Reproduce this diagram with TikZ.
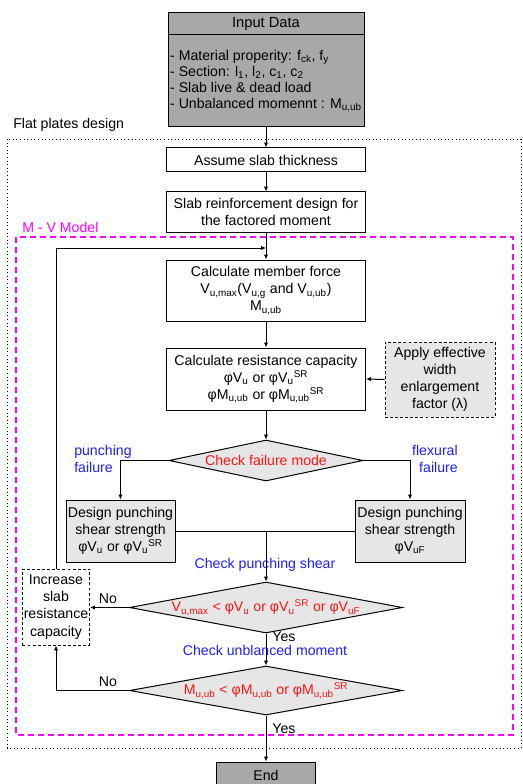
\documentclass[tikz,border=0pt]{standalone}
\usepackage{fontspec}
\setmainfont{Liberation Sans}
\usetikzlibrary{shapes.geometric,arrows.meta}
\newcommand\tsb[1]{\textsubscript{#1}}
\newcommand\tsp[1]{\textsuperscript{#1}}
\newcommand\pu{0.75pt}
\definecolor{gDark}{RGB}{168,168,168}
\definecolor{gLight}{RGB}{230,230,230}
\definecolor{lblue}{RGB}{30,30,255}
\definecolor{lred}{RGB}{255,20,20}
\definecolor{lmag}{RGB}{255,0,255}
\begin{document}
\begin{tikzpicture}[x=0.75pt,y=-0.75pt,
  font=\fontsize{10.6}{12.8}\selectfont,
  box/.style={draw, line width=0.75pt, align=center, inner sep=1pt},
  graybox/.style={box, fill=gLight},
  darkbox/.style={box, fill=gDark},
  dashbox/.style={draw, line width=0.75pt, align=center, inner sep=1pt, dash pattern=on 2.2pt off 1.6pt},
  decision/.style={draw, line width=0.75pt, diamond, fill=gLight, inner sep=0pt, text=lred},
  arr/.style={line width=0.75pt, -{Latex[length=3.6pt,width=3.2pt]}},
  ln/.style={line width=0.75pt},
  bluelbl/.style={text=lblue, inner sep=0pt},
  plainlbl/.style={inner sep=0pt}
]
\useasboundingbox (0,0) rectangle (523,784);

% frames
\draw[dotted, line width=0.7pt] (7,139) rectangle (521,748);
\draw[lmag, line width=0.9pt, dash pattern=on 4.5pt off 3pt] (16,237) rectangle (513,735);
\node[plainlbl, anchor=west] (lblFP) at (13,125) {Flat plates design};
\node[plainlbl, anchor=west, text=lmag] (lblMV) at (22,227) {M - V Model};

% nodes
\node[darkbox, minimum width=196*\pu, minimum height=22*\pu, font=\fontsize{11}{13}\selectfont] (inTitle) at (266,24) {Input Data};
\node[darkbox, minimum width=196*\pu, minimum height=92*\pu, align=left, font=\fontsize{10.6}{12}\selectfont] (inBody) at (266,81)
  {- Material properity: f\tsb{ck}, f\tsb{y}\\
   - Section: l\tsb{1}, l\tsb{2}, c\tsb{1}, c\tsb{2}\\
   - Slab live \& dead load\\
   - Unbalanced momennt : M\tsb{u,ub}};
\node[box, minimum width=199*\pu, minimum height=24*\pu] (assume) at (266,160) {Assume slab thickness};
\node[box, minimum width=199*\pu, minimum height=40*\pu] (reinf) at (266,212) {Slab reinforcement design for\\the factored moment};
\node[box, minimum width=199*\pu, minimum height=61*\pu] (calcF) at (266,290.5)
  {Calculate member force\\V\tsb{u,max}(V\tsb{u,g} and V\tsb{u,ub})\\M\tsb{u,ub}};
\node[box, minimum width=199*\pu, minimum height=62*\pu] (calcR) at (266,379)
  {Calculate resistance capacity\\φV\tsb{u} or φV\tsb{u}\tsp{SR}\\φM\tsb{u,ub} or φM\tsb{u,ub}\tsp{SR}};
\node[dashbox, fill=gLight, minimum width=110*\pu, minimum height=75*\pu] (apply) at (440,379.5)
  {Apply effective\\width\\enlargement\\factor (λ)};
\node[decision, minimum width=194*\pu, minimum height=41*\pu, aspect=4.7] (d1) at (266,460.5) {Check failure mode};
\node[graybox, minimum width=109*\pu, minimum height=62*\pu] (dpL) at (120.5,531)
  {Design punching\\shear strength\\φV\tsb{u} or φV\tsb{u}\tsp{SR}};
\node[graybox, minimum width=110*\pu, minimum height=62*\pu] (dpR) at (410,531)
  {Design punching\\shear strength\\φV\tsb{uF}};
\node[decision, minimum width=273*\pu, minimum height=51*\pu, aspect=5.35] (d2) at (266,607.5)
  {V\tsb{u,max} < φV\tsb{u} or φV\tsb{u}\tsp{SR} or φV\tsb{uF}};
\node[dashbox, minimum width=66*\pu, minimum height=76*\pu] (inc) at (56,607)
  {Increase\\slab\\resistance\\capacity};
\node[decision, minimum width=273*\pu, minimum height=49*\pu, aspect=5.57] (d3) at (266,690.5)
  {M\tsb{u,ub} < φM\tsb{u,ub} or φM\tsb{u,ub}\tsp{SR}};
\node[darkbox, minimum width=99*\pu, minimum height=26*\pu] (endb) at (266,775) {End};

% labels
\node[bluelbl, anchor=west, align=left] (lblPF) at (74,459) {punching\\failure};
\node[bluelbl, anchor=east, align=right] (lblFF) at (458,459) {flexural\\failure};
\node[bluelbl] (lblCPS) at (265,565) {Check punching shear};
\node[plainlbl] (no1) at (108,599) {No};
\node[plainlbl] (yes1) at (284,637) {Yes};
\node[bluelbl] (lblCUM) at (265,650) {Check unblanced moment};
\node[plainlbl] (no2) at (108,682) {No};
\node[plainlbl] (yes2) at (284,729) {Yes};

% connectors
\coordinate (lj) at (266,248);
\coordinate (mj) at (266,531);
\draw[arr] (inBody.south) -- (assume.north);
\draw[arr] (assume.south) -- (reinf.north);
\draw[arr] (reinf.south) -- (calcF.north);
\draw[arr] (inc.north) |- (lj);
\draw[arr] (calcF.south) -- (calcR.north);
\draw[arr] (apply.west) -- (calcR.east);
\draw[arr] (calcR.south) -- (d1.north);
\draw[arr] (d1.west) -| (dpL.north);
\draw[arr] (d1.east) -| (dpR.north);
\draw[ln] (dpL.east) -- (mj);
\draw[ln] (dpR.west) -- (mj);
\draw[arr] (mj) -- (d2.north);
\draw[arr] (d2.west) -- (inc.east |- d2.west);
\draw[arr] (d2.south) -- (d3.north);
\draw[arr] (d3.west) -| (inc.south);
\draw[arr] (d3.south) -- (endb.north);
\end{tikzpicture}
\end{document}
